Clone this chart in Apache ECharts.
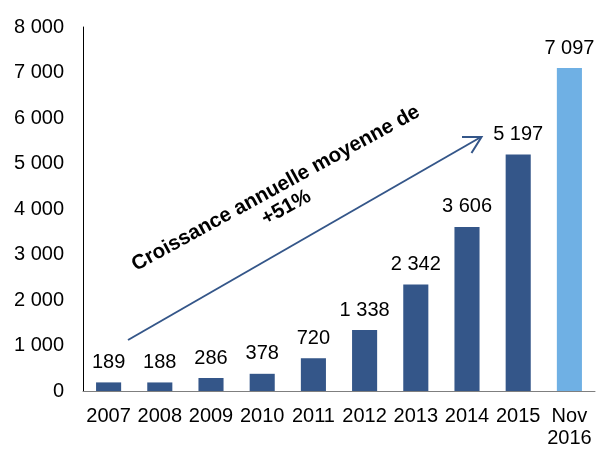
<!DOCTYPE html>
<html><head><meta charset="utf-8">
<script src="https://cdn.jsdelivr.net/npm/echarts@6/dist/echarts.min.js"></script>
<style>html,body{margin:0;padding:0;background:#fff}#c{width:597px;height:449px}</style>
</head><body><div id="c"></div>
<script>
const categories = ['2007','2008','2009','2010','2011','2012','2013','2014','2015','Nov\n2016'];
const values = [189,188,286,378,720,1338,2342,3606,5197,7097];
const yTicks = [0,1000,2000,3000,4000,5000,6000,7000,8000];
const annotation = ['Croissance annuelle moyenne de','+51%'];

function fmt(v){return String(v).replace(/\B(?=(\d{3})+(?!\d))/g,' ');}
const font = 'Liberation Sans, Arial, sans-serif';
const chart = echarts.init(document.getElementById('c'));
chart.setOption({
  animation:false,
  grid:{left:83,right:2,top:27,bottom:57},
  xAxis:{type:'category',data:categories,
    axisLine:{lineStyle:{color:'#7f7f7f',width:1}},axisTick:{show:false},
    axisLabel:{color:'#000',fontSize:20,fontFamily:font,margin:14,lineHeight:22,interval:0}},
  yAxis:{type:'value',min:0,max:8000,interval:1000,
    axisLine:{show:true,lineStyle:{color:'#000',width:1}},axisTick:{show:false},
    splitLine:{show:false},
    axisLabel:{color:'#000',fontSize:20,fontFamily:font,margin:19,formatter:v=>fmt(v)}},
  series:[{type:'bar',barWidth:'49%',
    data:values.map((v,i)=>({value:v,itemStyle:{color:i===values.length-1?'#6FB0E4':'#345689'}})),
    label:{show:true,position:'top',distance:10,color:'#000',fontSize:20,fontFamily:font,formatter:p=>fmt(p.value)}
  }],
  graphic:[
    {type:'line',shape:{x1:128,y1:340,x2:481,y2:137},style:{stroke:'#345689',lineWidth:2}},
    {type:'polyline',shape:{points:[[462,137],[481.5,137],[471.5,153]]},style:{stroke:'#345689',lineWidth:2,fill:null}},
    {type:'text',x:281,y:198,rotation:0.5,
      style:{text:annotation.join('\n'),font:'bold 20.5px '+font,fill:'#000',textAlign:'center',textVerticalAlign:'middle',lineHeight:22}}
  ]
});
</script></body></html>
